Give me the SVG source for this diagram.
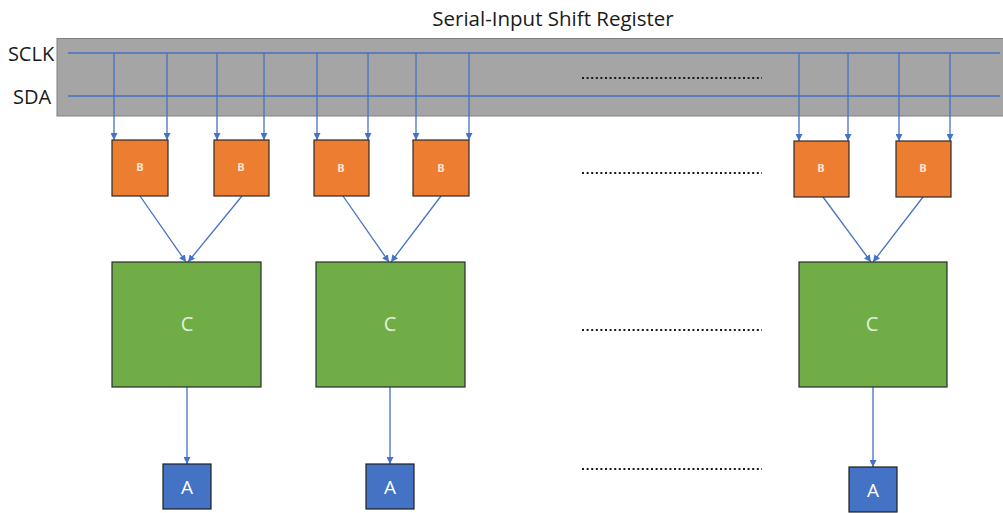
<svg xmlns="http://www.w3.org/2000/svg" width="1003" height="513" viewBox="0 0 1003 513">
<style>
.lbl{font-family:"Open Sans","Liberation Sans",sans-serif;fill:#1a1a1a}
.b rect{fill:#ed7d31;stroke:#2b2b2b;stroke-width:1.2}
.b text{font-family:"Open Sans","Liberation Sans",sans-serif;font-size:11px;font-weight:bold;fill:#fbe5d6;text-anchor:middle}
.c rect{fill:#70ad47;stroke:#2b2b2b;stroke-width:1.2}
.c text{font-family:"Open Sans","Liberation Sans",sans-serif;font-size:20px;fill:#e2f0d9;text-anchor:middle}
.a rect{fill:#4472c4;stroke:#1f1f1f;stroke-width:1.2}
.a text{font-family:"Open Sans","Liberation Sans",sans-serif;font-size:19px;fill:#ffffff;text-anchor:middle}
.con line{stroke:#4472c4;stroke-width:1.3;fill:none}
.con .arr{marker-end:url(#ah)}
.dots{stroke:#1a1a1a;stroke-width:2.2;stroke-dasharray:2 2.6}
</style>
<defs>
<marker id="ah" viewBox="0 0 10 10" refX="10" refY="5" markerWidth="7" markerHeight="7" markerUnits="userSpaceOnUse" orient="auto">
<path d="M0,0 L10,5 L0,10 z" fill="#4472c4"/>
</marker>
</defs>
<rect width="1003" height="513" fill="#ffffff"/>
<text class="lbl" x="553" y="26" font-size="20.5" text-anchor="middle">Serial-Input Shift Register</text>
<g id="register">
<rect x="57" y="38.5" width="950" height="77.5" fill="#a5a5a5" stroke="#808080" stroke-width="1"/>
<text class="lbl" x="31" y="61" font-size="20" text-anchor="middle">SCLK</text>
<text class="lbl" x="32" y="104" font-size="20" text-anchor="middle">SDA</text>
</g>
<g class="con" id="connectors">
<line x1="68" y1="53" x2="1000" y2="53"/>
<line x1="68" y1="96" x2="1000" y2="96"/>
<line class="arr" x1="114" y1="53" x2="114" y2="140"/>
<line class="arr" x1="167" y1="53" x2="167" y2="140"/>
<line class="arr" x1="217" y1="53" x2="217" y2="140"/>
<line class="arr" x1="264" y1="53" x2="264" y2="140"/>
<line class="arr" x1="317" y1="53" x2="317" y2="140"/>
<line class="arr" x1="368" y1="53" x2="368" y2="140"/>
<line class="arr" x1="416" y1="53" x2="416" y2="140"/>
<line class="arr" x1="469" y1="53" x2="469" y2="140"/>
<line class="arr" x1="799" y1="53" x2="799" y2="141"/>
<line class="arr" x1="848" y1="53" x2="848" y2="141"/>
<line class="arr" x1="899" y1="53" x2="899" y2="141"/>
<line class="arr" x1="950" y1="53" x2="950" y2="141"/>
<line class="arr" x1="140" y1="196" x2="186" y2="262"/>
<line class="arr" x1="242" y1="196" x2="188" y2="262"/>
<line class="arr" x1="343" y1="196" x2="389" y2="262"/>
<line class="arr" x1="441" y1="196" x2="391" y2="262"/>
<line class="arr" x1="823" y1="197" x2="871" y2="262"/>
<line class="arr" x1="923" y1="197" x2="873" y2="262"/>
<line class="arr" x1="187" y1="387" x2="187" y2="464"/>
<line class="arr" x1="390" y1="387" x2="390" y2="464"/>
<line class="arr" x1="873" y1="387" x2="873" y2="467"/>
</g>
<g id="b1" class="b"><rect x="112" y="140" width="56" height="56"/><text x="140" y="171">B</text></g>
<g id="b2" class="b"><rect x="214" y="140" width="55" height="56"/><text x="241" y="171">B</text></g>
<g id="b3" class="b"><rect x="314" y="140" width="55" height="56"/><text x="341" y="172">B</text></g>
<g id="b4" class="b"><rect x="413" y="140" width="56" height="56"/><text x="441" y="172">B</text></g>
<g id="b5" class="b"><rect x="794" y="141" width="55" height="56"/><text x="821" y="172">B</text></g>
<g id="b6" class="b"><rect x="896" y="141" width="55" height="56"/><text x="923" y="172">B</text></g>
<g id="c1" class="c"><rect x="112" y="262" width="149" height="125"/><text x="187" y="331">C</text></g>
<g id="c2" class="c"><rect x="316" y="262" width="149" height="125"/><text x="390" y="331">C</text></g>
<g id="c3" class="c"><rect x="799" y="262" width="148" height="125"/><text x="872" y="331">C</text></g>
<g id="a1" class="a"><rect x="163" y="464" width="48" height="45"/><text x="187" y="494">A</text></g>
<g id="a2" class="a"><rect x="366" y="464" width="48" height="45"/><text x="390" y="494">A</text></g>
<g id="a3" class="a"><rect x="849" y="467" width="48" height="45"/><text x="873" y="497">A</text></g>
<g id="ellipses">
<line class="dots" x1="582" y1="78" x2="762" y2="78"/>
<line class="dots" x1="582" y1="173" x2="762" y2="173"/>
<line class="dots" x1="582" y1="330" x2="762" y2="330"/>
<line class="dots" x1="582" y1="469" x2="762" y2="469"/>
</g>
</svg>
